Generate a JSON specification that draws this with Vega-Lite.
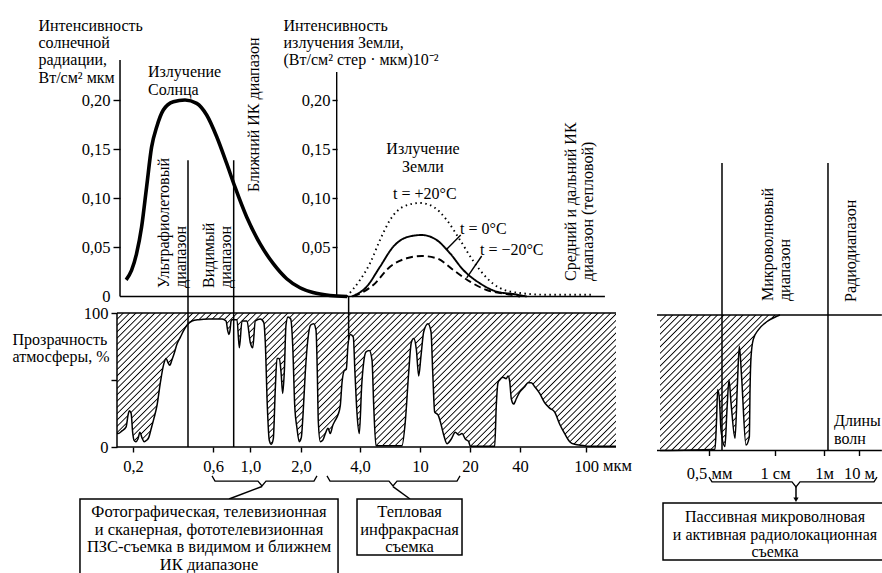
{
"$schema":"https://vega.github.io/schema/vega-lite/v6.json",
"width":882,"height":573,"autosize":{"type":"none"},"padding":0,"background":"white",
"config":{"view":{"stroke":null},
"axis":{"grid":false,"domain":false,"labelFont":"Liberation Serif","labelFontSize":16.5,"labelColor":"#000","tickColor":"#000","tickWidth":1.4,"titleFont":"Liberation Serif","titleFontSize":16,"titleFontWeight":"normal","titleColor":"#000","labelOverlap":false,"labelFlush":false,"labelBound":false}},
"datasets":{
"trans":[{"w":0.1606,"T":10},{"w":0.163,"T":10},{"w":0.172,"T":12},{"w":0.182,"T":15},{"w":0.187,"T":24},{"w":0.19,"T":27},{"w":0.195,"T":25},{"w":0.199,"T":11},{"w":0.203,"T":5},{"w":0.208,"T":4},{"w":0.214,"T":6},{"w":0.22,"T":11},{"w":0.226,"T":7},{"w":0.233,"T":4},{"w":0.241,"T":5},{"w":0.248,"T":7},{"w":0.257,"T":14},{"w":0.266,"T":21},{"w":0.278,"T":31},{"w":0.291,"T":48},{"w":0.305,"T":62},{"w":0.315,"T":66},{"w":0.323,"T":63},{"w":0.331,"T":61},{"w":0.341,"T":65},{"w":0.35,"T":69},{"w":0.366,"T":77},{"w":0.383,"T":82},{"w":0.401,"T":87},{"w":0.42,"T":91},{"w":0.449,"T":94},{"w":0.493,"T":95},{"w":0.564,"T":95.5},{"w":0.678,"T":95.5},{"w":0.716,"T":94},{"w":0.732,"T":87},{"w":0.744,"T":84},{"w":0.756,"T":87},{"w":0.767,"T":94},{"w":0.776,"T":95},{"w":0.832,"T":95},{"w":0.859,"T":74},{"w":0.891,"T":94},{"w":0.954,"T":94},{"w":0.998,"T":78},{"w":1.032,"T":74},{"w":1.069,"T":94},{"w":1.145,"T":95.5},{"w":1.2,"T":93},{"w":1.226,"T":78},{"w":1.26,"T":31},{"w":1.295,"T":5},{"w":1.331,"T":2},{"w":1.368,"T":6},{"w":1.406,"T":43},{"w":1.439,"T":66},{"w":1.486,"T":66},{"w":1.521,"T":56},{"w":1.556,"T":40},{"w":1.591,"T":56},{"w":1.628,"T":91},{"w":1.673,"T":97},{"w":1.737,"T":95.5},{"w":1.785,"T":76},{"w":1.835,"T":31},{"w":1.893,"T":14},{"w":1.954,"T":4},{"w":2.007,"T":7},{"w":2.048,"T":24},{"w":2.104,"T":56},{"w":2.171,"T":81},{"w":2.241,"T":91},{"w":2.322,"T":92},{"w":2.386,"T":87},{"w":2.422,"T":56},{"w":2.451,"T":19},{"w":2.509,"T":4},{"w":2.581,"T":5},{"w":2.661,"T":10},{"w":2.747,"T":14},{"w":2.822,"T":10},{"w":2.903,"T":16},{"w":2.993,"T":20},{"w":3.089,"T":24},{"w":3.174,"T":31},{"w":3.238,"T":48},{"w":3.326,"T":57},{"w":3.405,"T":58},{"w":3.474,"T":76},{"w":3.57,"T":84},{"w":3.697,"T":82},{"w":3.771,"T":55},{"w":3.862,"T":25},{"w":3.967,"T":10},{"w":4.105,"T":46},{"w":4.252,"T":65},{"w":4.384,"T":71},{"w":4.61,"T":72},{"w":4.805,"T":65},{"w":4.931,"T":31},{"w":5.108,"T":1},{"w":7.597,"T":1},{"w":7.99,"T":19},{"w":8.42,"T":56},{"w":8.758,"T":78},{"w":9.084,"T":81},{"w":9.453,"T":73},{"w":9.805,"T":53},{"w":10.14,"T":68},{"w":10.53,"T":86},{"w":11.17,"T":92},{"w":11.65,"T":86},{"w":11.93,"T":56},{"w":12.26,"T":26},{"w":12.84,"T":24},{"w":13.25,"T":19},{"w":13.89,"T":9},{"w":14.54,"T":2.5},{"w":15.44,"T":6},{"w":16.32,"T":11},{"w":17.11,"T":9},{"w":17.91,"T":10},{"w":18.75,"T":6},{"w":19.65,"T":4},{"w":20.09,"T":0.5},{"w":28.18,"T":0.5},{"w":28.81,"T":31},{"w":29.5,"T":48},{"w":30.2,"T":50},{"w":31.62,"T":52},{"w":33.11,"T":51},{"w":33.9,"T":53},{"w":34.7,"T":49},{"w":35.48,"T":36},{"w":36.68,"T":32},{"w":38.03,"T":36},{"w":39.86,"T":41},{"w":42.73,"T":45},{"w":44.73,"T":48},{"w":46.83,"T":48},{"w":49.09,"T":45},{"w":52.6,"T":40},{"w":56.39,"T":33},{"w":60.43,"T":29},{"w":64.77,"T":26},{"w":69.43,"T":17},{"w":74.41,"T":10},{"w":79.76,"T":4},{"w":85.5,"T":2},{"w":98.2,"T":1},{"w":102.8,"T":0.5},{"w":151.6,"T":0.5}],
"transR":[{"m":0.0000541,"T":0},{"m":0.000657,"T":1},{"m":0.000703,"T":22},{"m":0.000742,"T":45},{"m":0.000805,"T":37},{"m":0.000862,"T":15},{"m":0.00103,"T":3},{"m":0.00113,"T":30},{"m":0.00124,"T":52},{"m":0.00136,"T":35},{"m":0.00163,"T":9},{"m":0.00182,"T":50},{"m":0.00198,"T":77},{"m":0.00219,"T":55},{"m":0.00268,"T":4},{"m":0.00312,"T":10},{"m":0.00322,"T":45},{"m":0.00337,"T":69},{"m":0.00373,"T":82},{"m":0.00469,"T":89},{"m":0.00686,"T":95},{"m":0.01173,"T":99},{"m":0.016,"T":100}]
},
"layer":[
{"layer":[
 {"data":{"values":[{"w":0.1674,"w2":0.1674,"I":0,"I2":0.2407},{"w":0.1674,"w2":130,"I":0,"I2":0}]},
  "mark":{"type":"rule","strokeWidth":1.5,"color":"#000"},
  "encoding":{
   "x":{"field":"w","type":"quantitative","scale":{"type":"log","domain":[0.2,2,4,10,100],"range":[133,301,360,420,586],"nice":false},"axis":null},
   "x2":{"field":"w2"},
   "y":{"field":"I","type":"quantitative","scale":{"type":"linear","domain":[0,0.2],"range":[296.5,100],"nice":false,"zero":false},
     "axis":{"orient":"left","offset":-120,"values":[0,0.05,0.1,0.15,0.2],"labelExpr":"datum.value == 0 ? '0' : replace(format(datum.value, '.2f'), '.', ',')","tickSize":7,"labelPadding":3,"tickOpacity":{"condition":{"test":"datum.value == 0","value":0},"value":1},"title":["Интенсивность","солнечной","радиации,","Вт/см² мкм"],"titleAngle":0,"titleAlign":"left","titleBaseline":"top","titleX":-82,"titleY":17.5,"titleLineHeight":17.2}},
   "y2":{"field":"I2"}}},
 {"data":{"values":[{"w":0.182,"I":0.017},{"w":0.196,"I":0.0265},{"w":0.21,"I":0.0436},{"w":0.225,"I":0.0707},{"w":0.241,"I":0.1115},{"w":0.258,"I":0.152},{"w":0.277,"I":0.1728},{"w":0.303,"I":0.1898},{"w":0.348,"I":0.1983},{"w":0.408,"I":0.2},{"w":0.479,"I":0.1966},{"w":0.549,"I":0.1847},{"w":0.63,"I":0.1626},{"w":0.722,"I":0.1354},{"w":0.809,"I":0.1115},{"w":0.95,"I":0.0809},{"w":1.14,"I":0.0538},{"w":1.368,"I":0.0334},{"w":1.644,"I":0.0181},{"w":1.973,"I":0.0089},{"w":2.303,"I":0.004},{"w":2.812,"I":0.001},{"w":3.434,"I":0}]},
  "mark":{"type":"line","interpolate":"monotone","strokeWidth":3.6,"color":"#000"},
  "encoding":{
   "x":{"field":"w","type":"quantitative","scale":{"type":"log","domain":[0.2,2,4,10,100],"range":[133,301,360,420,586],"nice":false},"axis":null},
   "y":{"field":"I","type":"quantitative","scale":{"type":"linear","domain":[0,0.2],"range":[296.5,100],"nice":false,"zero":false}}}},
 {"data":{"values":[{"w":0.2456,"I":0.2362,"text":"Излучение\nСолнца"}]},
  "mark":{"type":"text","align":"left","baseline":"top","lineBreak":"\n","lineHeight":17.2,"font":"Liberation Serif","fontSize":16,"color":"#000"},
  "encoding":{
   "x":{"field":"w","type":"quantitative","scale":{"type":"log","domain":[0.2,2,4,10,100],"range":[133,301,360,420,586],"nice":false},"axis":null},
   "y":{"field":"I","type":"quantitative","scale":{"type":"linear","domain":[0,0.2],"range":[296.5,100],"nice":false,"zero":false}},
   "text":{"field":"text"}}},
 {"data":{"values":[{"w":0.2741,"I":0.0087,"text":"Ультрафиолетовый\nдиапазон"},{"w":0.508,"I":0.0087,"text":"Видимый\nдиапазон"},{"w":0.941,"I":0.1064,"text":"Ближний ИК диапазон"}]},
  "mark":{"type":"text","angle":270,"align":"left","baseline":"top","lineBreak":"\n","lineHeight":17.2,"font":"Liberation Serif","fontSize":16,"color":"#000"},
  "encoding":{
   "x":{"field":"w","type":"quantitative","scale":{"type":"log","domain":[0.2,2,4,10,100],"range":[133,301,360,420,586],"nice":false},"axis":null},
   "y":{"field":"I","type":"quantitative","scale":{"type":"linear","domain":[0,0.2],"range":[296.5,100],"nice":false,"zero":false}},
   "text":{"field":"text"}}}
]},
{"layer":[
 {"data":{"values":[{"w":3.042,"w2":3.042,"I":0,"I2":0.2285},{"w":17.6,"w2":14.48,"I":0.0626,"I2":0.048},{"w":23.53,"w2":19.11,"I":0.0412,"I2":0.019}]},
  "mark":{"type":"rule","strokeWidth":1.4,"color":"#000"},
  "encoding":{
   "x":{"field":"w","type":"quantitative","scale":{"type":"log","domain":[0.2,2,4,10,100],"range":[133,301,360,420,586],"nice":false},"axis":null},
   "x2":{"field":"w2"},
   "y":{"field":"I","type":"quantitative","scale":{"type":"linear","domain":[0,0.2],"range":[296.5,100],"nice":false,"zero":false},
     "axis":{"orient":"left","offset":-337,"values":[0.05,0.1,0.15,0.2],"labelExpr":"replace(format(datum.value, '.2f'), '.', ',')","tickSize":5,"labelPadding":2,"title":["Интенсивность","излучения Земли,","(Вт/см² стер · мкм)10⁻²"],"titleAngle":0,"titleAlign":"left","titleBaseline":"top","titleX":-54,"titleY":17.5,"titleLineHeight":17.2}},
   "y2":{"field":"I2"}}},
 {"data":{"values":[
   {"t":"+20","w":3.42,"I":0},{"t":"+20","w":4.0,"I":0.0168},{"t":"+20","w":4.66,"I":0.0338},{"t":"+20","w":5.43,"I":0.0575},{"t":"+20","w":6.33,"I":0.0779},{"t":"+20","w":7.75,"I":0.0914},{"t":"+20","w":10.0,"I":0.0952},{"t":"+20","w":12.02,"I":0.0914},{"t":"+20","w":14.48,"I":0.0779},{"t":"+20","w":17.42,"I":0.0575},{"t":"+20","w":20.95,"I":0.036},{"t":"+20","w":25.22,"I":0.019},{"t":"+20","w":30.33,"I":0.0085},{"t":"+20","w":40.04,"I":0.0035},{"t":"+20","w":58,"I":0.0018},{"t":"+20","w":110.7,"I":0.0018},
   {"t":"0","w":3.63,"I":0},{"t":"0","w":4.43,"I":0.01},{"t":"0","w":5.43,"I":0.0303},{"t":"0","w":6.65,"I":0.0507},{"t":"0","w":8.16,"I":0.0603},{"t":"0","w":10.24,"I":0.0626},{"t":"0","w":12.6,"I":0.0575},{"t":"0","w":15.16,"I":0.044},{"t":"0","w":18.23,"I":0.027},{"t":"0","w":22.98,"I":0.0134},{"t":"0","w":28.97,"I":0.0049},{"t":"0","w":36.48,"I":0.0025},{"t":"0","w":43.93,"I":0},
   {"t":"-20","w":3.7,"I":0},{"t":"-20","w":4.9,"I":0.0117},{"t":"-20","w":6.33,"I":0.0303},{"t":"-20","w":8.16,"I":0.0389},{"t":"-20","w":10.24,"I":0.0412},{"t":"-20","w":12.6,"I":0.0389},{"t":"-20","w":15.87,"I":0.027},{"t":"-20","w":20.01,"I":0.0151},{"t":"-20","w":25.22,"I":0.0066},{"t":"-20","w":33.29,"I":0.0025},{"t":"-20","w":40.04,"I":0}]},
  "mark":{"type":"line","interpolate":"monotone","strokeWidth":1.9,"color":"#000"},
  "encoding":{
   "x":{"field":"w","type":"quantitative","scale":{"type":"log","domain":[0.2,2,4,10,100],"range":[133,301,360,420,586],"nice":false},"axis":null},
   "y":{"field":"I","type":"quantitative","scale":{"type":"linear","domain":[0,0.2],"range":[296.5,100],"nice":false,"zero":false}},
   "strokeDash":{"field":"t","type":"nominal","scale":{"domain":["+20","0","-20"],"range":[[1.5,3.5],[1,0],[7,4]]},"legend":null}}},
 {"data":{"values":[{"w":10.42,"I":0.1579,"text":"Излучение\nЗемли"}]},
  "mark":{"type":"text","align":"center","baseline":"top","lineBreak":"\n","lineHeight":17.2,"font":"Liberation Serif","fontSize":16,"color":"#000"},
  "encoding":{
   "x":{"field":"w","type":"quantitative","scale":{"type":"log","domain":[0.2,2,4,10,100],"range":[133,301,360,420,586],"nice":false},"axis":null},
   "y":{"field":"I","type":"quantitative","scale":{"type":"linear","domain":[0,0.2],"range":[296.5,100],"nice":false,"zero":false}},
   "text":{"field":"text"}}},
 {"data":{"values":[{"w":6.62,"I":0.1125,"text":"t = +20°C"},{"w":17.42,"I":0.0768,"text":"t = 0°C"},{"w":22.98,"I":0.0555,"text":"t = −20°C"}]},
  "mark":{"type":"text","align":"left","baseline":"top","font":"Liberation Serif","fontSize":16,"color":"#000"},
  "encoding":{
   "x":{"field":"w","type":"quantitative","scale":{"type":"log","domain":[0.2,2,4,10,100],"range":[133,301,360,420,586],"nice":false},"axis":null},
   "y":{"field":"I","type":"quantitative","scale":{"type":"linear","domain":[0,0.2],"range":[296.5,100],"nice":false,"zero":false}},
   "text":{"field":"text"}}},
 {"data":{"values":[{"w":72.7,"I":0.0158,"text":"Средний и дальний ИК\nдиапазон (тепловой)"}]},
  "mark":{"type":"text","angle":270,"align":"left","baseline":"top","lineBreak":"\n","lineHeight":17.2,"font":"Liberation Serif","fontSize":16,"color":"#000"},
  "encoding":{
   "x":{"field":"w","type":"quantitative","scale":{"type":"log","domain":[0.2,2,4,10,100],"range":[133,301,360,420,586],"nice":false},"axis":null},
   "y":{"field":"I","type":"quantitative","scale":{"type":"linear","domain":[0,0.2],"range":[296.5,100],"nice":false,"zero":false}},
   "text":{"field":"text"}}}
]},
{"layer":[
 {"data":{"name":"trans"},
  "mark":{"type":"area","interpolate":"monotone","fill":{"gradient":"linear","x1":0,"y1":0,"x2":1.1832,"y2":0.3177,"stops":[
{"offset":0,"color":"#000"},{"offset":0.002,"color":"#fff"},{"offset":0.008,"color":"#fff"},
{"offset":0.01,"color":"#000"},{"offset":0.012,"color":"#fff"},{"offset":0.018,"color":"#fff"},
{"offset":0.02,"color":"#000"},{"offset":0.022,"color":"#fff"},{"offset":0.028,"color":"#fff"},
{"offset":0.03,"color":"#000"},{"offset":0.032,"color":"#fff"},{"offset":0.038,"color":"#fff"},
{"offset":0.04,"color":"#000"},{"offset":0.042,"color":"#fff"},{"offset":0.048,"color":"#fff"},
{"offset":0.05,"color":"#000"},{"offset":0.052,"color":"#fff"},{"offset":0.058,"color":"#fff"},
{"offset":0.06,"color":"#000"},{"offset":0.062,"color":"#fff"},{"offset":0.068,"color":"#fff"},
{"offset":0.07,"color":"#000"},{"offset":0.072,"color":"#fff"},{"offset":0.078,"color":"#fff"},
{"offset":0.08,"color":"#000"},{"offset":0.082,"color":"#fff"},{"offset":0.088,"color":"#fff"},
{"offset":0.09,"color":"#000"},{"offset":0.092,"color":"#fff"},{"offset":0.098,"color":"#fff"},
{"offset":0.1,"color":"#000"},{"offset":0.102,"color":"#fff"},{"offset":0.108,"color":"#fff"},
{"offset":0.11,"color":"#000"},{"offset":0.112,"color":"#fff"},{"offset":0.118,"color":"#fff"},
{"offset":0.12,"color":"#000"},{"offset":0.122,"color":"#fff"},{"offset":0.128,"color":"#fff"},
{"offset":0.13,"color":"#000"},{"offset":0.132,"color":"#fff"},{"offset":0.138,"color":"#fff"},
{"offset":0.14,"color":"#000"},{"offset":0.142,"color":"#fff"},{"offset":0.148,"color":"#fff"},
{"offset":0.15,"color":"#000"},{"offset":0.152,"color":"#fff"},{"offset":0.158,"color":"#fff"},
{"offset":0.16,"color":"#000"},{"offset":0.162,"color":"#fff"},{"offset":0.168,"color":"#fff"},
{"offset":0.17,"color":"#000"},{"offset":0.172,"color":"#fff"},{"offset":0.178,"color":"#fff"},
{"offset":0.18,"color":"#000"},{"offset":0.182,"color":"#fff"},{"offset":0.188,"color":"#fff"},
{"offset":0.19,"color":"#000"},{"offset":0.192,"color":"#fff"},{"offset":0.198,"color":"#fff"},
{"offset":0.2,"color":"#000"},{"offset":0.202,"color":"#fff"},{"offset":0.208,"color":"#fff"},
{"offset":0.21,"color":"#000"},{"offset":0.212,"color":"#fff"},{"offset":0.218,"color":"#fff"},
{"offset":0.22,"color":"#000"},{"offset":0.222,"color":"#fff"},{"offset":0.228,"color":"#fff"},
{"offset":0.23,"color":"#000"},{"offset":0.232,"color":"#fff"},{"offset":0.238,"color":"#fff"},
{"offset":0.24,"color":"#000"},{"offset":0.242,"color":"#fff"},{"offset":0.248,"color":"#fff"},
{"offset":0.25,"color":"#000"},{"offset":0.252,"color":"#fff"},{"offset":0.258,"color":"#fff"},
{"offset":0.26,"color":"#000"},{"offset":0.262,"color":"#fff"},{"offset":0.268,"color":"#fff"},
{"offset":0.27,"color":"#000"},{"offset":0.272,"color":"#fff"},{"offset":0.278,"color":"#fff"},
{"offset":0.28,"color":"#000"},{"offset":0.282,"color":"#fff"},{"offset":0.288,"color":"#fff"},
{"offset":0.29,"color":"#000"},{"offset":0.292,"color":"#fff"},{"offset":0.298,"color":"#fff"},
{"offset":0.3,"color":"#000"},{"offset":0.302,"color":"#fff"},{"offset":0.308,"color":"#fff"},
{"offset":0.31,"color":"#000"},{"offset":0.312,"color":"#fff"},{"offset":0.318,"color":"#fff"},
{"offset":0.32,"color":"#000"},{"offset":0.322,"color":"#fff"},{"offset":0.328,"color":"#fff"},
{"offset":0.33,"color":"#000"},{"offset":0.332,"color":"#fff"},{"offset":0.338,"color":"#fff"},
{"offset":0.34,"color":"#000"},{"offset":0.342,"color":"#fff"},{"offset":0.348,"color":"#fff"},
{"offset":0.35,"color":"#000"},{"offset":0.352,"color":"#fff"},{"offset":0.358,"color":"#fff"},
{"offset":0.36,"color":"#000"},{"offset":0.362,"color":"#fff"},{"offset":0.368,"color":"#fff"},
{"offset":0.37,"color":"#000"},{"offset":0.372,"color":"#fff"},{"offset":0.378,"color":"#fff"},
{"offset":0.38,"color":"#000"},{"offset":0.382,"color":"#fff"},{"offset":0.388,"color":"#fff"},
{"offset":0.39,"color":"#000"},{"offset":0.392,"color":"#fff"},{"offset":0.398,"color":"#fff"},
{"offset":0.4,"color":"#000"},{"offset":0.402,"color":"#fff"},{"offset":0.408,"color":"#fff"},
{"offset":0.41,"color":"#000"},{"offset":0.412,"color":"#fff"},{"offset":0.418,"color":"#fff"},
{"offset":0.42,"color":"#000"},{"offset":0.422,"color":"#fff"},{"offset":0.428,"color":"#fff"},
{"offset":0.43,"color":"#000"},{"offset":0.432,"color":"#fff"},{"offset":0.438,"color":"#fff"},
{"offset":0.44,"color":"#000"},{"offset":0.442,"color":"#fff"},{"offset":0.448,"color":"#fff"},
{"offset":0.45,"color":"#000"},{"offset":0.452,"color":"#fff"},{"offset":0.458,"color":"#fff"},
{"offset":0.46,"color":"#000"},{"offset":0.462,"color":"#fff"},{"offset":0.468,"color":"#fff"},
{"offset":0.47,"color":"#000"},{"offset":0.472,"color":"#fff"},{"offset":0.478,"color":"#fff"},
{"offset":0.48,"color":"#000"},{"offset":0.482,"color":"#fff"},{"offset":0.488,"color":"#fff"},
{"offset":0.49,"color":"#000"},{"offset":0.492,"color":"#fff"},{"offset":0.498,"color":"#fff"},
{"offset":0.5,"color":"#000"},{"offset":0.502,"color":"#fff"},{"offset":0.508,"color":"#fff"},
{"offset":0.51,"color":"#000"},{"offset":0.512,"color":"#fff"},{"offset":0.518,"color":"#fff"},
{"offset":0.52,"color":"#000"},{"offset":0.522,"color":"#fff"},{"offset":0.528,"color":"#fff"},
{"offset":0.53,"color":"#000"},{"offset":0.532,"color":"#fff"},{"offset":0.538,"color":"#fff"},
{"offset":0.54,"color":"#000"},{"offset":0.542,"color":"#fff"},{"offset":0.548,"color":"#fff"},
{"offset":0.55,"color":"#000"},{"offset":0.552,"color":"#fff"},{"offset":0.558,"color":"#fff"},
{"offset":0.56,"color":"#000"},{"offset":0.562,"color":"#fff"},{"offset":0.568,"color":"#fff"},
{"offset":0.57,"color":"#000"},{"offset":0.572,"color":"#fff"},{"offset":0.578,"color":"#fff"},
{"offset":0.58,"color":"#000"},{"offset":0.582,"color":"#fff"},{"offset":0.588,"color":"#fff"},
{"offset":0.59,"color":"#000"},{"offset":0.592,"color":"#fff"},{"offset":0.598,"color":"#fff"},
{"offset":0.6,"color":"#000"},{"offset":0.602,"color":"#fff"},{"offset":0.608,"color":"#fff"},
{"offset":0.61,"color":"#000"},{"offset":0.612,"color":"#fff"},{"offset":0.618,"color":"#fff"},
{"offset":0.62,"color":"#000"},{"offset":0.622,"color":"#fff"},{"offset":0.628,"color":"#fff"},
{"offset":0.63,"color":"#000"},{"offset":0.632,"color":"#fff"},{"offset":0.638,"color":"#fff"},
{"offset":0.64,"color":"#000"},{"offset":0.642,"color":"#fff"},{"offset":0.648,"color":"#fff"},
{"offset":0.65,"color":"#000"},{"offset":0.652,"color":"#fff"},{"offset":0.658,"color":"#fff"},
{"offset":0.66,"color":"#000"},{"offset":0.662,"color":"#fff"},{"offset":0.668,"color":"#fff"},
{"offset":0.67,"color":"#000"},{"offset":0.672,"color":"#fff"},{"offset":0.678,"color":"#fff"},
{"offset":0.68,"color":"#000"},{"offset":0.682,"color":"#fff"},{"offset":0.688,"color":"#fff"},
{"offset":0.69,"color":"#000"},{"offset":0.692,"color":"#fff"},{"offset":0.698,"color":"#fff"},
{"offset":0.7,"color":"#000"},{"offset":0.702,"color":"#fff"},{"offset":0.708,"color":"#fff"},
{"offset":0.71,"color":"#000"},{"offset":0.712,"color":"#fff"},{"offset":0.718,"color":"#fff"},
{"offset":0.72,"color":"#000"},{"offset":0.722,"color":"#fff"},{"offset":0.728,"color":"#fff"},
{"offset":0.73,"color":"#000"},{"offset":0.732,"color":"#fff"},{"offset":0.738,"color":"#fff"},
{"offset":0.74,"color":"#000"},{"offset":0.742,"color":"#fff"},{"offset":0.748,"color":"#fff"},
{"offset":0.75,"color":"#000"},{"offset":0.752,"color":"#fff"},{"offset":0.758,"color":"#fff"},
{"offset":0.76,"color":"#000"},{"offset":0.762,"color":"#fff"},{"offset":0.768,"color":"#fff"},
{"offset":0.77,"color":"#000"},{"offset":0.772,"color":"#fff"},{"offset":0.778,"color":"#fff"},
{"offset":0.78,"color":"#000"},{"offset":0.782,"color":"#fff"},{"offset":0.788,"color":"#fff"},
{"offset":0.79,"color":"#000"},{"offset":0.792,"color":"#fff"},{"offset":0.798,"color":"#fff"},
{"offset":0.8,"color":"#000"},{"offset":0.802,"color":"#fff"},{"offset":0.808,"color":"#fff"},
{"offset":0.81,"color":"#000"},{"offset":0.812,"color":"#fff"},{"offset":0.818,"color":"#fff"},
{"offset":0.82,"color":"#000"},{"offset":0.822,"color":"#fff"},{"offset":0.828,"color":"#fff"},
{"offset":0.83,"color":"#000"},{"offset":0.832,"color":"#fff"},{"offset":0.838,"color":"#fff"},
{"offset":0.84,"color":"#000"},{"offset":0.842,"color":"#fff"},{"offset":0.848,"color":"#fff"},
{"offset":0.85,"color":"#000"},{"offset":0.852,"color":"#fff"},{"offset":0.858,"color":"#fff"},
{"offset":0.86,"color":"#000"},{"offset":0.862,"color":"#fff"},{"offset":0.868,"color":"#fff"},
{"offset":0.87,"color":"#000"},{"offset":0.872,"color":"#fff"},{"offset":0.878,"color":"#fff"},
{"offset":0.88,"color":"#000"},{"offset":0.882,"color":"#fff"},{"offset":0.888,"color":"#fff"},
{"offset":0.89,"color":"#000"},{"offset":0.892,"color":"#fff"},{"offset":0.898,"color":"#fff"},
{"offset":0.9,"color":"#000"},{"offset":0.902,"color":"#fff"},{"offset":0.908,"color":"#fff"},
{"offset":0.91,"color":"#000"},{"offset":0.912,"color":"#fff"},{"offset":0.918,"color":"#fff"},
{"offset":0.92,"color":"#000"},{"offset":0.922,"color":"#fff"},{"offset":0.928,"color":"#fff"},
{"offset":0.93,"color":"#000"},{"offset":0.932,"color":"#fff"},{"offset":0.938,"color":"#fff"},
{"offset":0.94,"color":"#000"},{"offset":0.942,"color":"#fff"},{"offset":0.948,"color":"#fff"},
{"offset":0.95,"color":"#000"},{"offset":0.952,"color":"#fff"},{"offset":0.958,"color":"#fff"},
{"offset":0.96,"color":"#000"},{"offset":0.962,"color":"#fff"},{"offset":0.968,"color":"#fff"},
{"offset":0.97,"color":"#000"},{"offset":0.972,"color":"#fff"},{"offset":0.978,"color":"#fff"},
{"offset":0.98,"color":"#000"},{"offset":0.982,"color":"#fff"},{"offset":0.988,"color":"#fff"},
{"offset":0.99,"color":"#000"},{"offset":0.992,"color":"#fff"},{"offset":0.998,"color":"#fff"},
{"offset":1,"color":"#000"}]}},
  "encoding":{
   "x":{"field":"w","type":"quantitative","scale":{"type":"log","domain":[0.2,2,4,10,100],"range":[133,301,360,420,586],"nice":false},
     "axis":{"orient":"bottom","offset":-126,"values":[0.2,0.6,1,2,4,10,20,40,100],"labelExpr":"datum.value < 5 ? replace(format(datum.value, '.1f'), '.', ',') : format(datum.value, 'd')","tickSize":5,"labelPadding":6,"title":null}},
   "y":{"field":"T","type":"quantitative","scale":{"type":"linear","domain":[0,100],"range":[447,313],"nice":false,"zero":false},
     "axis":{"orient":"left","offset":-117,"values":[0,50,100],"labelExpr":"datum.value == 50 ? '' : datum.label","tickSize":6,"labelPadding":3,"title":["Прозрачность","атмосферы, %"],"titleAngle":0,"titleAlign":"left","titleBaseline":"top","titleX":-105,"titleY":331,"titleLineHeight":17.2}},
   "y2":{"datum":100}}},
 {"data":{"name":"trans"},
  "mark":{"type":"line","interpolate":"monotone","strokeWidth":1.5,"color":"#000"},
  "encoding":{
   "x":{"field":"w","type":"quantitative","scale":{"type":"log","domain":[0.2,2,4,10,100],"range":[133,301,360,420,586],"nice":false}},
   "y":{"field":"T","type":"quantitative","scale":{"type":"linear","domain":[0,100],"range":[447,313],"nice":false,"zero":false}}}},
 {"data":{"values":[{"w":0.1606,"w2":151.6,"T":100,"T2":100},{"w":0.1606,"w2":151.6,"T":0,"T2":0},{"w":0.1606,"w2":0.1606,"T":0,"T2":100},{"w":0.425,"w2":0.425,"T":0,"T2":214},{"w":0.795,"w2":0.795,"T":0,"T2":214},{"w":3.5,"w2":3.5,"T":80,"T2":112},{"w":1.172,"w2":0.7456,"T":-29.5,"T2":-38.8},{"w":6.62,"w2":8.585,"T":-29.5,"T2":-38.8}]},
  "mark":{"type":"rule","strokeWidth":1.5,"color":"#000"},
  "encoding":{
   "x":{"field":"w","type":"quantitative","scale":{"type":"log","domain":[0.2,2,4,10,100],"range":[133,301,360,420,586],"nice":false}},
   "x2":{"field":"w2"},
   "y":{"field":"T","type":"quantitative","scale":{"type":"linear","domain":[0,100],"range":[447,313],"nice":false,"zero":false}},
   "y2":{"field":"T2"}}},
 {"data":{"values":[{"b":1,"w":0.5906,"T":-21.6},{"b":1,"w":0.6154,"T":-25.4},{"b":1,"w":1.109,"T":-25.4},{"b":1,"w":1.172,"T":-29.1},{"b":1,"w":1.238,"T":-25.4},{"b":1,"w":2.33,"T":-25.4},{"b":1,"w":2.413,"T":-21.6},
   {"b":2,"w":2.714,"T":-21.6},{"b":2,"w":2.812,"T":-25.4},{"b":2,"w":6.228,"T":-25.4},{"b":2,"w":6.62,"T":-29.1},{"b":2,"w":7.04,"T":-25.4},{"b":2,"w":16.71,"T":-25.4},{"b":2,"w":17.42,"T":-21.6}]},
  "mark":{"type":"line","strokeWidth":1.3,"color":"#000"},
  "encoding":{
   "x":{"field":"w","type":"quantitative","scale":{"type":"log","domain":[0.2,2,4,10,100],"range":[133,301,360,420,586],"nice":false}},
   "y":{"field":"T","type":"quantitative","scale":{"type":"linear","domain":[0,100],"range":[447,313],"nice":false,"zero":false}},
   "detail":{"field":"b","type":"nominal"}}},
 {"data":{"values":[{"w":0.0967,"w2":3.09,"T":-38.8,"T2":-100},{"w":3.862,"w2":17.91,"T":-38.8,"T2":-80.6}]},
  "mark":{"type":"rect","fill":"#fff","stroke":"#000","strokeWidth":1.5},
  "encoding":{
   "x":{"field":"w","type":"quantitative","scale":{"type":"log","domain":[0.2,2,4,10,100],"range":[133,301,360,420,586],"nice":false}},
   "x2":{"field":"w2"},
   "y":{"field":"T","type":"quantitative","scale":{"type":"linear","domain":[0,100],"range":[447,313],"nice":false,"zero":false}},
   "y2":{"field":"T2"}}},
 {"data":{"values":[{"w":0.567,"T":-42.5,"text":"Фотографическая, телевизионная\nи сканерная, фототелевизионная\nПЗС-съемка в видимом и ближнем\nИК диапазоне"},{"w":8.52,"T":-42.5,"text":"Тепловая\nинфракрасная\nсъемка"}]},
  "mark":{"type":"text","align":"center","baseline":"top","lineBreak":"\n","lineHeight":17.7,"font":"Liberation Serif","fontSize":16.5,"color":"#000"},
  "encoding":{
   "x":{"field":"w","type":"quantitative","scale":{"type":"log","domain":[0.2,2,4,10,100],"range":[133,301,360,420,586],"nice":false}},
   "y":{"field":"T","type":"quantitative","scale":{"type":"linear","domain":[0,100],"range":[447,313],"nice":false,"zero":false}},
   "text":{"field":"text"}}},
 {"data":{"values":[{"w":126.6,"T":-8.2,"text":"мкм"}]},
  "mark":{"type":"text","align":"left","baseline":"top","font":"Liberation Serif","fontSize":16.5,"color":"#000"},
  "encoding":{
   "x":{"field":"w","type":"quantitative","scale":{"type":"log","domain":[0.2,2,4,10,100],"range":[133,301,360,420,586],"nice":false}},
   "y":{"field":"T","type":"quantitative","scale":{"type":"linear","domain":[0,100],"range":[447,313],"nice":false,"zero":false}},
   "text":{"field":"text"}}}
]},
{"layer":[
 {"data":{"name":"transR"},
  "mark":{"type":"area","interpolate":"monotone","fill":{"gradient":"linear","x1":0,"y1":0,"x2":0.936,"y2":1.0567,"stops":[
{"offset":0,"color":"#000"},{"offset":0.005,"color":"#fff"},{"offset":0.02,"color":"#fff"},
{"offset":0.025,"color":"#000"},{"offset":0.03,"color":"#fff"},{"offset":0.045,"color":"#fff"},
{"offset":0.05,"color":"#000"},{"offset":0.055,"color":"#fff"},{"offset":0.07,"color":"#fff"},
{"offset":0.075,"color":"#000"},{"offset":0.08,"color":"#fff"},{"offset":0.095,"color":"#fff"},
{"offset":0.1,"color":"#000"},{"offset":0.105,"color":"#fff"},{"offset":0.12,"color":"#fff"},
{"offset":0.125,"color":"#000"},{"offset":0.13,"color":"#fff"},{"offset":0.145,"color":"#fff"},
{"offset":0.15,"color":"#000"},{"offset":0.155,"color":"#fff"},{"offset":0.17,"color":"#fff"},
{"offset":0.175,"color":"#000"},{"offset":0.18,"color":"#fff"},{"offset":0.195,"color":"#fff"},
{"offset":0.2,"color":"#000"},{"offset":0.205,"color":"#fff"},{"offset":0.22,"color":"#fff"},
{"offset":0.225,"color":"#000"},{"offset":0.23,"color":"#fff"},{"offset":0.245,"color":"#fff"},
{"offset":0.25,"color":"#000"},{"offset":0.255,"color":"#fff"},{"offset":0.27,"color":"#fff"},
{"offset":0.275,"color":"#000"},{"offset":0.28,"color":"#fff"},{"offset":0.295,"color":"#fff"},
{"offset":0.3,"color":"#000"},{"offset":0.305,"color":"#fff"},{"offset":0.32,"color":"#fff"},
{"offset":0.325,"color":"#000"},{"offset":0.33,"color":"#fff"},{"offset":0.345,"color":"#fff"},
{"offset":0.35,"color":"#000"},{"offset":0.355,"color":"#fff"},{"offset":0.37,"color":"#fff"},
{"offset":0.375,"color":"#000"},{"offset":0.38,"color":"#fff"},{"offset":0.395,"color":"#fff"},
{"offset":0.4,"color":"#000"},{"offset":0.405,"color":"#fff"},{"offset":0.42,"color":"#fff"},
{"offset":0.425,"color":"#000"},{"offset":0.43,"color":"#fff"},{"offset":0.445,"color":"#fff"},
{"offset":0.45,"color":"#000"},{"offset":0.455,"color":"#fff"},{"offset":0.47,"color":"#fff"},
{"offset":0.475,"color":"#000"},{"offset":0.48,"color":"#fff"},{"offset":0.495,"color":"#fff"},
{"offset":0.5,"color":"#000"},{"offset":0.505,"color":"#fff"},{"offset":0.52,"color":"#fff"},
{"offset":0.525,"color":"#000"},{"offset":0.53,"color":"#fff"},{"offset":0.545,"color":"#fff"},
{"offset":0.55,"color":"#000"},{"offset":0.555,"color":"#fff"},{"offset":0.57,"color":"#fff"},
{"offset":0.575,"color":"#000"},{"offset":0.58,"color":"#fff"},{"offset":0.595,"color":"#fff"},
{"offset":0.6,"color":"#000"},{"offset":0.605,"color":"#fff"},{"offset":0.62,"color":"#fff"},
{"offset":0.625,"color":"#000"},{"offset":0.63,"color":"#fff"},{"offset":0.645,"color":"#fff"},
{"offset":0.65,"color":"#000"},{"offset":0.655,"color":"#fff"},{"offset":0.67,"color":"#fff"},
{"offset":0.675,"color":"#000"},{"offset":0.68,"color":"#fff"},{"offset":0.695,"color":"#fff"},
{"offset":0.7,"color":"#000"},{"offset":0.705,"color":"#fff"},{"offset":0.72,"color":"#fff"},
{"offset":0.725,"color":"#000"},{"offset":0.73,"color":"#fff"},{"offset":0.745,"color":"#fff"},
{"offset":0.75,"color":"#000"},{"offset":0.755,"color":"#fff"},{"offset":0.77,"color":"#fff"},
{"offset":0.775,"color":"#000"},{"offset":0.78,"color":"#fff"},{"offset":0.795,"color":"#fff"},
{"offset":0.8,"color":"#000"},{"offset":0.805,"color":"#fff"},{"offset":0.82,"color":"#fff"},
{"offset":0.825,"color":"#000"},{"offset":0.83,"color":"#fff"},{"offset":0.845,"color":"#fff"},
{"offset":0.85,"color":"#000"},{"offset":0.855,"color":"#fff"},{"offset":0.87,"color":"#fff"},
{"offset":0.875,"color":"#000"},{"offset":0.88,"color":"#fff"},{"offset":0.895,"color":"#fff"},
{"offset":0.9,"color":"#000"},{"offset":0.905,"color":"#fff"},{"offset":0.92,"color":"#fff"},
{"offset":0.925,"color":"#000"},{"offset":0.93,"color":"#fff"},{"offset":0.945,"color":"#fff"},
{"offset":0.95,"color":"#000"},{"offset":0.955,"color":"#fff"},{"offset":0.97,"color":"#fff"},
{"offset":0.975,"color":"#000"},{"offset":0.98,"color":"#fff"},{"offset":0.995,"color":"#fff"},
{"offset":1,"color":"#000"}]}},
  "encoding":{
   "x":{"field":"m","type":"quantitative","scale":{"type":"log","domain":[0.0005,0.01,1,10],"range":[709,775,824,859],"nice":false},
     "axis":{"orient":"bottom","offset":-122.5,"values":[0.0005,0.01,1,10],"labelExpr":"datum.value < 0.001 ? '0,5 мм' : datum.value < 0.1 ? '1 см' : datum.value < 2 ? '1м' : '10 м'","tickSize":5,"labelPadding":9.5,"title":null}},
   "y":{"field":"T","type":"quantitative","scale":{"type":"linear","domain":[0,100],"range":[450.5,315],"nice":false,"zero":false},"axis":null},
   "y2":{"datum":100}}},
 {"data":{"name":"transR"},
  "mark":{"type":"line","interpolate":"monotone","strokeWidth":1.5,"color":"#000"},
  "encoding":{
   "x":{"field":"m","type":"quantitative","scale":{"type":"log","domain":[0.0005,0.01,1,10],"range":[709,775,824,859],"nice":false}},
   "y":{"field":"T","type":"quantitative","scale":{"type":"linear","domain":[0,100],"range":[450.5,315],"nice":false,"zero":false},"axis":null}}},
 {"data":{"values":[{"m":0.0000472,"m2":45,"T":100,"T2":100},{"m":0.0000472,"m2":45,"T":0,"T2":0},{"m":0.000902,"m2":0.000902,"T":0,"T2":212.2},{"m":1.3,"m2":1.3,"T":0,"T2":212.2},{"m":0.0719,"m2":0.0719,"T":-26.9,"T2":-36}]},
  "mark":{"type":"rule","strokeWidth":1.5,"color":"#000"},
  "encoding":{
   "x":{"field":"m","type":"quantitative","scale":{"type":"log","domain":[0.0005,0.01,1,10],"range":[709,775,824,859],"nice":false}},
   "x2":{"field":"m2"},
   "y":{"field":"T","type":"quantitative","scale":{"type":"linear","domain":[0,100],"range":[450.5,315],"nice":false,"zero":false},"axis":null},
   "y2":{"field":"T2"}}},
 {"data":{"values":[{"m":0.0005,"T":-19.6},{"m":0.000573,"T":-23.2},{"m":0.0494,"T":-23.2},{"m":0.0719,"T":-26.9},{"m":0.1048,"T":-23.2},{"m":26.83,"T":-23.2},{"m":32.69,"T":-19.6}]},
  "mark":{"type":"line","strokeWidth":1.3,"color":"#000"},
  "encoding":{
   "x":{"field":"m","type":"quantitative","scale":{"type":"log","domain":[0.0005,0.01,1,10],"range":[709,775,824,859],"nice":false}},
   "y":{"field":"T","type":"quantitative","scale":{"type":"linear","domain":[0,100],"range":[450.5,315],"nice":false,"zero":false},"axis":null}}},
 {"data":{"values":[{"m":0.0719,"T":-36.3}]},
  "mark":{"type":"point","shape":"triangle-down","size":28,"filled":true,"color":"#000","opacity":1},
  "encoding":{
   "x":{"field":"m","type":"quantitative","scale":{"type":"log","domain":[0.0005,0.01,1,10],"range":[709,775,824,859],"nice":false}},
   "y":{"field":"T","type":"quantitative","scale":{"type":"linear","domain":[0,100],"range":[450.5,315],"nice":false,"zero":false},"axis":null}}},
 {"data":{"values":[{"m":0.000062,"m2":76.9,"T":-38.7,"T2":-80.8}]},
  "mark":{"type":"rect","fill":"#fff","stroke":"#000","strokeWidth":1.5},
  "encoding":{
   "x":{"field":"m","type":"quantitative","scale":{"type":"log","domain":[0.0005,0.01,1,10],"range":[709,775,824,859],"nice":false}},
   "x2":{"field":"m2"},
   "y":{"field":"T","type":"quantitative","scale":{"type":"linear","domain":[0,100],"range":[450.5,315],"nice":false,"zero":false},"axis":null},
   "y2":{"field":"T2"}}},
 {"data":{"values":[{"m":0.01,"T":-43.5,"text":"Пассивная микроволновая\nи активная радиолокационная\nсъемка"}]},
  "mark":{"type":"text","align":"center","baseline":"top","lineBreak":"\n","lineHeight":17.2,"font":"Liberation Serif","fontSize":16,"color":"#000"},
  "encoding":{
   "x":{"field":"m","type":"quantitative","scale":{"type":"log","domain":[0.0005,0.01,1,10],"range":[709,775,824,859],"nice":false}},
   "y":{"field":"T","type":"quantitative","scale":{"type":"linear","domain":[0,100],"range":[450.5,315],"nice":false,"zero":false},"axis":null},
   "text":{"field":"text"}}},
 {"data":{"values":[{"m":0.00506,"T":110.3,"text":"Микроволновый\nдиапазон"},{"m":3.49,"T":109.6,"text":"Радиодиапазон"}]},
  "mark":{"type":"text","angle":270,"align":"left","baseline":"top","lineBreak":"\n","lineHeight":17.2,"font":"Liberation Serif","fontSize":16,"color":"#000"},
  "encoding":{
   "x":{"field":"m","type":"quantitative","scale":{"type":"log","domain":[0.0005,0.01,1,10],"range":[709,775,824,859],"nice":false}},
   "y":{"field":"T","type":"quantitative","scale":{"type":"linear","domain":[0,100],"range":[450.5,315],"nice":false,"zero":false},"axis":null},
   "text":{"field":"text"}}},
 {"data":{"values":[{"m":1.931,"T":27.4,"text":"Длины\nволн"}]},
  "mark":{"type":"text","align":"left","baseline":"top","lineBreak":"\n","lineHeight":17.2,"font":"Liberation Serif","fontSize":16,"color":"#000"},
  "encoding":{
   "x":{"field":"m","type":"quantitative","scale":{"type":"log","domain":[0.0005,0.01,1,10],"range":[709,775,824,859],"nice":false}},
   "y":{"field":"T","type":"quantitative","scale":{"type":"linear","domain":[0,100],"range":[450.5,315],"nice":false,"zero":false},"axis":null},
   "text":{"field":"text"}}}
]}
],
"resolve":{"scale":{"x":"independent","y":"independent"},"axis":{"x":"independent","y":"independent"}}
}
